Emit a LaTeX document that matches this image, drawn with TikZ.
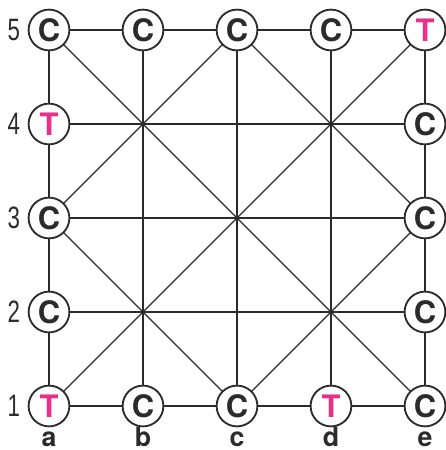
\documentclass[tikz,border=0pt]{standalone}
\usepackage{fontspec}
\setsansfont{TeX Gyre Heros}
\newfontfamily\rowfont[FakeStretch=0.72]{Liberation Sans}
\usepackage{xcolor}
\definecolor{ink}{HTML}{2B2B2B}
\definecolor{tiger}{HTML}{E5318A}

\begin{document}
\begin{tikzpicture}[x=0.025cm, y=0.025cm, font=\sffamily,
    spot/.style={circle, draw=ink, line width=1.3pt, fill=white, minimum size=1.02cm, inner sep=0pt, font=\sffamily\bfseries\fontsize{22}{22}\selectfont},
    cow/.style={spot, text=ink},
    tiger/.style={spot, text=tiger},
    rowlabel/.style={anchor=center, text=ink, font=\rowfont\fontsize{22}{22}\selectfont},
    collabel/.style={anchor=base, inner sep=0pt, text=ink, font=\sffamily\bfseries\fontsize{19}{19}\selectfont}]
  \useasboundingbox (-49,-44) rectangle (397,406);
  % board points
  \foreach \c [count=\i from 0] in {a,b,c,d,e}
    \foreach \r in {1,...,5}
      \coordinate (\c\r) at (\i*94, {(\r-1)*94});
  % lines
  \begin{scope}[draw=ink, line width=0.9pt]
    \foreach \r in {1,...,5} \draw (a\r) -- (e\r);
    \foreach \c in {a,...,e} \draw (\c1) -- (\c5);
    \draw (a1) -- (e5) (a5) -- (e1);
    \draw (a3) -- (c5) -- (e3) -- (c1) -- cycle;
  \end{scope}
  % pieces
  \foreach \p in {a5,b5,c5,d5,e4,e3,e2,e1,c1,b1,a2,a3} {
    \node[cow] (n-\p) at (\p) {C};
  }
  \foreach \p in {e5,a4,a1,d1} {
    \node[tiger] (n-\p) at (\p) {T};
  }
  % labels
  \foreach \r in {1,...,5}
    \node[rowlabel] (r\r) at ([xshift=-0.88cm]a\r) {\r};
  \foreach \c in {a,...,e}
    \node[collabel] (l-\c) at ([yshift=-1.0cm]\c1) {\c};
\end{tikzpicture}
\end{document}
